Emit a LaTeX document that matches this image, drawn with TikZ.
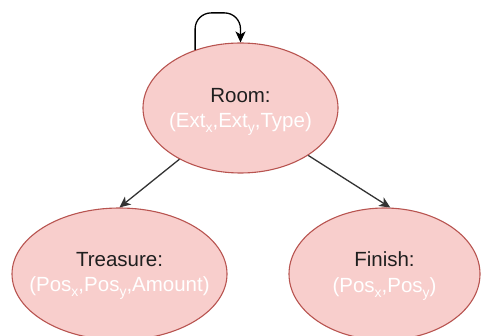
\documentclass[tikz,border=0pt]{standalone}
\usepackage{fontspec}
\setmainfont{Liberation Sans}
\usetikzlibrary{shapes.geometric,arrows.meta}
\definecolor{statefill}{HTML}{F8CECC}
\definecolor{stateline}{HTML}{B85450}
\definecolor{edgecol}{HTML}{333333}
\tikzset{
  state/.style={ellipse, draw=stateline, fill=statefill, line width=1.1pt, inner sep=0pt},
  label text/.style={align=center, font=\fontsize{20.5}{25.5}\selectfont, text=black!88, inner sep=0pt},
  edge/.style={draw=edgecol, line width=1.3pt, -{Stealth[length=11pt,width=10pt,inset=3pt]}},
}
\newcommand{\attr}[1]{\textcolor{white}{#1}}
\newcommand{\lowsub}[1]{\raisebox{-0.45ex}{\fontsize{14}{14}\selectfont #1}}
\begin{document}
\begin{tikzpicture}[x=1pt,y=-1pt]
  \useasboundingbox (0,0) rectangle (481,336);
  \begin{scope}
    \clip (0,0) rectangle (481,336);
    % states
    \node[state, minimum width=195pt, minimum height=130pt] (room) at (240.5,108) {};
    \node[state, minimum width=215pt, minimum height=132pt] (treasure) at (119.5,274) {};
    \node[state, minimum width=191pt, minimum height=132pt] (finish) at (384.5,274) {};
  \end{scope}
  % texts
  \node[label text] (roomtxt) at (240.5,112)
    {Room:\\\attr{(Ext\lowsub{x},Ext\lowsub{y},Type)}};
  \node[label text] (treasuretxt) at (119.5,276)
    {Treasure:\\\attr{(Pos\lowsub{x},Pos\lowsub{y},Amount)}};
  \node[label text] (finishtxt) at (384.5,276)
    {Finish:\\\attr{(Pos\lowsub{x},Pos\lowsub{y})}};
  % transitions
  \draw[edge] (room.220) -- (treasure.north);
  \draw[edge] (room.325) -- (finish.85);
  \draw[edge, draw=black, rounded corners=16pt] (room.128) -- ++(0,-37) -| (room.north);
\end{tikzpicture}
\end{document}
